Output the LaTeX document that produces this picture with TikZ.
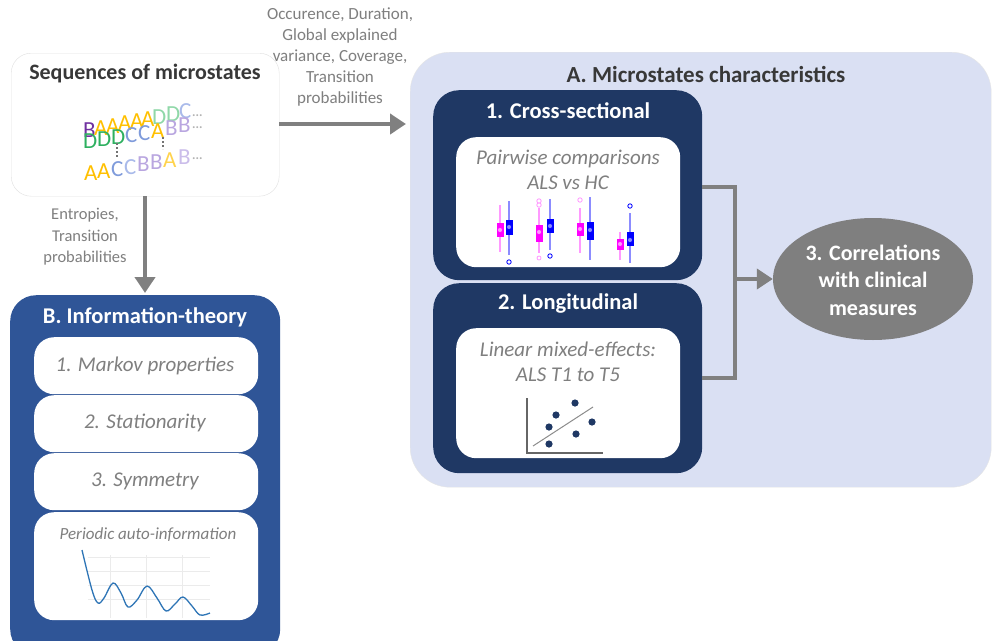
\documentclass[tikz,border=0pt]{standalone}
\usepackage{fontspec}
\setmainfont{Carlito}
\usetikzlibrary{arrows.meta,shapes.geometric}
\definecolor{navy}{HTML}{1F3864}
\definecolor{bblue}{HTML}{2F5597}
\definecolor{lav}{HTML}{DAE0F3}
\definecolor{gtxt}{HTML}{7F7F7F}
\definecolor{garrow}{HTML}{808080}
\definecolor{dtxt}{HTML}{383838}
\definecolor{mag}{HTML}{FF00FF}
\definecolor{magl}{HTML}{FF99FF}
\definecolor{blu}{HTML}{0000FF}
\definecolor{blul}{HTML}{8C8CFF}
\definecolor{cyel}{HTML}{FFC000}
\definecolor{cyell}{HTML}{FFD34D}
\definecolor{cpur}{HTML}{7030A0}
\definecolor{cpurl}{HTML}{B9A6E0}
\definecolor{cpurll}{HTML}{CBBDEA}
\definecolor{cgrn}{HTML}{2EB060}
\definecolor{cgrnl}{HTML}{8FD8A8}
\definecolor{cblu}{HTML}{7F9BDB}
\definecolor{cblul}{HTML}{A9BAEA}
\definecolor{curve}{HTML}{2E75B6}
\tikzset{
  whitebox/.style={draw=black!12, fill=white, rounded corners=20pt, anchor=north west, inner sep=0pt},
  darkbox/.style={fill=navy, rounded corners=26pt, anchor=north west, inner sep=0pt},
  innerbox/.style={fill=white, rounded corners=20pt, anchor=north west, inner sep=0pt},
  ttl/.style={font=\fontsize{22.5}{26}\selectfont\bfseries, text=white, inner sep=0pt},
  itl/.style={font=\fontsize{21}{25}\selectfont\itshape, text=gtxt, inner sep=0pt, align=center},
  lbl/.style={font=\fontsize{17}{21}\selectfont, text=gtxt, inner sep=0pt, align=center},
  conn/.style={draw=garrow, line width=4pt},
  arr/.style={conn, -{Triangle[length=16pt,width=20pt]}},
  seqlet/.style={font=\fontsize{23}{23}\selectfont, inner sep=0pt, anchor=base west},
  seqdots/.style={font=\fontsize{13}{13}\selectfont\bfseries, text=black!30, inner sep=0pt, anchor=base west},
}
\begin{document}
\begin{tikzpicture}[x=1pt,y=-1pt]
\fill[white] (0,0) rectangle (992,640);
\useasboundingbox (0,0) rectangle (992,640);

% ---------- A box ----------
\node[fill=lav, draw=black!10, rounded corners=40pt, anchor=north west, inner sep=0pt,
      minimum width=581pt, minimum height=435pt] (abox) at (410,52) {};
\node[font=\fontsize{23}{26}\selectfont\bfseries, text=dtxt, inner sep=0pt] (atitle) at (706,74) {A. Microstates characteristics};

% Cross-sectional
\node[darkbox, minimum width=269pt, minimum height=190pt] (cross) at (433,90) {};
\node[ttl] (crosst) at (568,111) {1. Cross-sectional};
\node[innerbox, minimum width=224pt, minimum height=130pt] (crossin) at (456,137) {};
\node[itl] (crosstx) at (568,170) {Pairwise comparisons\\ALS vs HC};

% Longitudinal
\node[darkbox, minimum width=269pt, minimum height=190pt] (longi) at (433,283) {};
\node[ttl] (longit) at (568,304) {2. Longitudinal};
\node[innerbox, minimum width=224pt, minimum height=130pt] (longin) at (456,328) {};
\node[itl] (longtx) at (568,362) {Linear mixed-effects:\\ALS T1 to T5};

% box plots
\newcommand\bpl[8]{% x, wtop, wbot, btop, bbot, dark, light, median
  \draw[#7, line width=2pt] (#1,#2) -- (#1,#3);
  \fill[#6] (#1-3.5,#4) rectangle (#1+3.5,#5);
  \draw[#6, fill=#7, line width=0.8pt] (#1,#8) circle (2.6pt);
}
\bpl{500}{205}{252}{223}{237}{mag}{magl}{230}
\bpl{509}{201}{255}{220}{235}{blu}{blul}{227}
\bpl{539}{208}{253}{225}{242}{mag}{magl}{232}
\bpl{550}{199}{250}{219}{233}{blu}{blul}{226}
\bpl{580}{208}{253}{223}{236}{mag}{magl}{229}
\bpl{590}{197}{260}{222}{240}{blu}{blul}{230}
\bpl{620}{232}{260}{239}{250}{mag}{magl}{244}
\bpl{630}{213}{263}{232}{246}{blu}{blul}{240}
\draw[blu, line width=0.8pt] (509,262) circle (2.2pt);
\draw[magl, line width=0.8pt] (539,201) circle (2.2pt) (539,205) circle (2.2pt);
\draw[magl, line width=0.8pt] (539,258) circle (2pt);
\draw[blu, line width=0.8pt] (550,256) circle (2.2pt);
\draw[magl, line width=0.8pt] (580,200) circle (2.2pt);
\draw[blu, line width=0.8pt] (630,206) circle (2.2pt);

% scatter plot
\draw[black!60, line width=1.5pt] (527,398) -- (527,453) -- (603,453);
\draw[black!45, line width=1pt] (533,446) -- (593,407);
\foreach \p in {(575,403),(556,415),(549,427),(592,422),(576,434),(549,444)}
  \fill[navy] \p circle (3.6pt);

% Ellipse
\node[ellipse, fill=gtxt, minimum width=200pt, minimum height=122pt, inner sep=0pt] (corr) at (873,279) {};
\node[font=\fontsize{22}{27.5}\selectfont\bfseries, text=white, align=center, inner sep=0pt] (corrt) at (873,280) {3. Correlations\\with clinical\\measures};

% bracket connectors
\coordinate (bt) at (735,187);
\coordinate (bb) at (735,378);
\coordinate (bm) at (735,279);
\draw[conn] (cross.east |- bt) -- (bt) -- (bb) -- (cross.east |- bb);
\draw[arr] (bm) -- (corr.west);

% ---------- Sequences box ----------
\node[whitebox, minimum width=268pt, minimum height=143pt] (seq) at (11,53) {};
\node[font=\fontsize{22}{26}\selectfont\bfseries, text=dtxt, inner sep=0pt] (seqt) at (145,74) {Sequences of microstates};
% row 1
\foreach \l/\c/\x/\y [count=\i] in {B/cpur/83/137, A/cyel/94/135, A/cyel/106/133, A/cyel/118/130, A/cyel/130/128, A/cyel/141/126, D/cgrnl/152/124, D/cgrnl/166/121, C/cblul/179/118}
  \node[seqlet, text=\c] (ra\i) at (\x,\y) {\l};
\node[seqdots] (rad) at (192,116) {...};
% row 2
\foreach \l/\c/\x/\y [count=\i] in {D/cgrn/83/148, D/cgrn/97/146, D/cgrn/111/144, C/cblu/125/142, C/cblu/138/140, A/cyel/151/138, B/cpurl/165/135, B/cpurl/178/132}
  \node[seqlet, text=\c] (rb\i) at (\x,\y) {\l};
\node[seqdots] (rbd) at (192,128) {...};
% row 3
\foreach \l/\c/\x/\y [count=\i] in {A/cyel/84/180, A/cyel/97/178, C/cblu/111/176, C/cblul/124/174, B/cpurl/137/171, B/cpurl/150/169, A/cyell/163/167, B/cpurll/178/164}
  \node[seqlet, text=\c] (rc\i) at (\x,\y) {\l};
\node[seqdots] (rcd) at (192,159) {...};
\draw[black!55, line width=2.2pt, dash pattern=on 2pt off 2pt] (117,143) -- (117,157);
\draw[black!55, line width=2.2pt, dash pattern=on 2pt off 2pt] (163,137) -- (163,149);

% top label and arrow
\node[lbl] (toplbl) at (340,57) {Occurence, Duration,\\Global explained\\variance, Coverage,\\Transition\\probabilities};
\coordinate (aleft) at (406,124);
\draw[arr] (seq.east |- aleft) -- (aleft);

% ---------- B box ----------
\node[fill=bblue, rounded corners=26pt, anchor=north west, inner sep=0pt,
      minimum width=270pt, minimum height=360pt] (bbox) at (10,295) {};
\node[ttl] (btitle) at (145,317) {B. Information-theory};
\node[innerbox, minimum width=224pt, minimum height=57pt] (b1) at (34,337) {};
\node[innerbox, minimum width=224pt, minimum height=57pt] (b2) at (34,395) {};
\node[innerbox, minimum width=224pt, minimum height=57pt] (b3) at (34,453) {};
\node[innerbox, minimum width=224pt, minimum height=108pt] (b4) at (34,512) {};
\node[itl] (b1t) at (145,366) {1. Markov properties};
\node[itl] (b2t) at (145,423) {2. Stationarity};
\node[itl] (b3t) at (145,481) {3. Symmetry};
\node[font=\fontsize{17}{20}\selectfont\itshape, text=gtxt, inner sep=0pt] (b4t) at (148,535) {Periodic auto-information};
\draw[black!8, line width=0.6pt]
  (110,555) -- (110,618) (146,555) -- (146,618) (182,555) -- (182,618)
  (88,557) -- (210,557) (88,571) -- (210,571) (88,585) -- (210,585) (88,599) -- (210,599);
\draw[curve, line width=1.3pt] plot[smooth, tension=0.6] coordinates {
  (82,550) (92,590) (98,603) (104,598) (113,583) (121,593) (128,607) (137,600)
  (147,586) (157,598) (166,611) (175,604) (183,597) (192,606) (200,615) (210,613)};

% down arrow
\coordinate (bdown) at (145,293);
\draw[arr] (seq.south -| bdown) -- (bdown);
\node[font=\fontsize{16.5}{21.5}\selectfont, text=gtxt, align=center, inner sep=0pt] (entl) at (85,237) {Entropies,\\Transition\\probabilities};
\end{tikzpicture}
\end{document}
